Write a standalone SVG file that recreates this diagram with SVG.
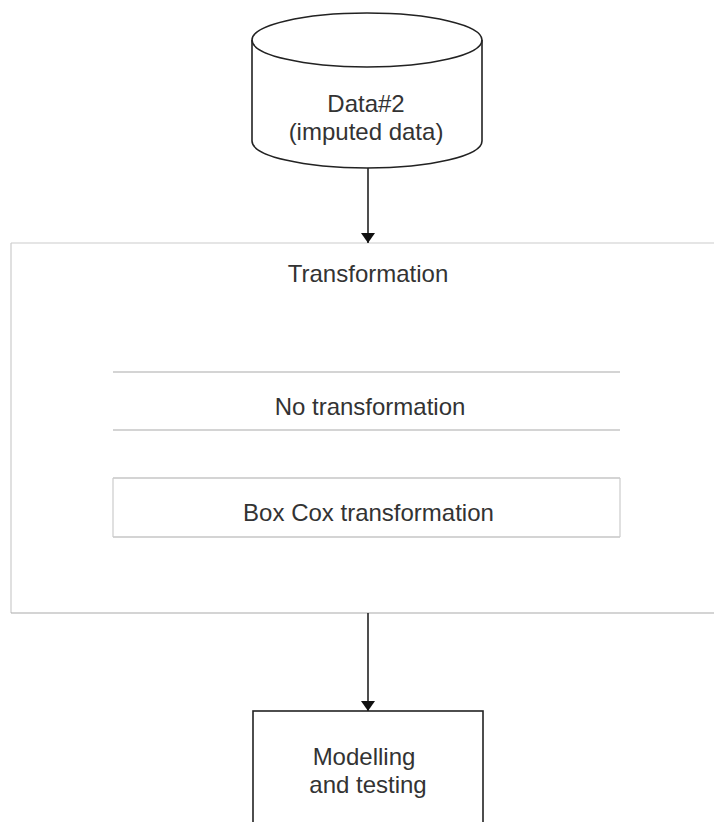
<svg xmlns="http://www.w3.org/2000/svg" width="714" height="822" viewBox="0 0 714 822">
<defs>
<style>
text{font-family:"Liberation Sans",Arial,sans-serif;font-size:24px;fill:#333;text-anchor:middle}
.dark{fill:none;stroke:#222;stroke-width:1.6}
.faint{stroke:#aaa;stroke-width:1.2;fill:none}
.fainter{stroke:#ccc;stroke-width:1.2;fill:none}
.conn{stroke:#222;stroke-width:1.6;fill:none}
</style>
<marker id="arr" viewBox="0 0 10 14" refX="10" refY="7" markerWidth="10" markerHeight="14" markerUnits="userSpaceOnUse" orient="auto">
<path d="M0,0 L10,7 L0,14 Z" fill="#111"/>
</marker>
</defs>
<rect width="714" height="822" fill="#fff"/>
<g id="data2">
<path class="dark" d="M252,40 L252,141 A115,27 0 0 0 482,141 L482,40" fill="#fff"/>
<ellipse class="dark" cx="367" cy="40" rx="115" ry="27"/>
<text x="366" y="112">Data#2</text>
<text x="366" y="140">(imputed data)</text>
</g>
<g id="transformation">
<line class="fainter" x1="11" y1="243" x2="714" y2="243"/>
<line class="fainter" x1="11" y1="243" x2="11" y2="613"/>
<line class="faint" x1="11" y1="613" x2="714" y2="613"/>
<text x="368" y="282">Transformation</text>
</g>
<g id="no-transformation">
<line class="faint" x1="113" y1="372" x2="620" y2="372"/>
<line class="faint" x1="113" y1="430" x2="620" y2="430"/>
<text x="370" y="415">No transformation</text>
</g>
<g id="box-cox">
<line class="faint" x1="113" y1="478" x2="620" y2="478"/>
<line class="faint" x1="113" y1="537" x2="620" y2="537"/>
<line class="fainter" x1="620" y1="478" x2="620" y2="537"/>
<line class="fainter" x1="113" y1="478" x2="113" y2="537"/>
<text x="368.5" y="521">Box Cox transformation</text>
</g>
<g id="modelling">
<rect class="dark" x="253" y="711" width="230" height="130" fill="#fff"/>
<text x="364" y="765">Modelling</text>
<text x="368" y="793">and testing</text>
</g>
<g id="connectors">
<line class="conn" x1="368" y1="168" x2="368" y2="243" marker-end="url(#arr)"/>
<line class="conn" x1="368" y1="613" x2="368" y2="711" marker-end="url(#arr)"/>
</g>
</svg>
